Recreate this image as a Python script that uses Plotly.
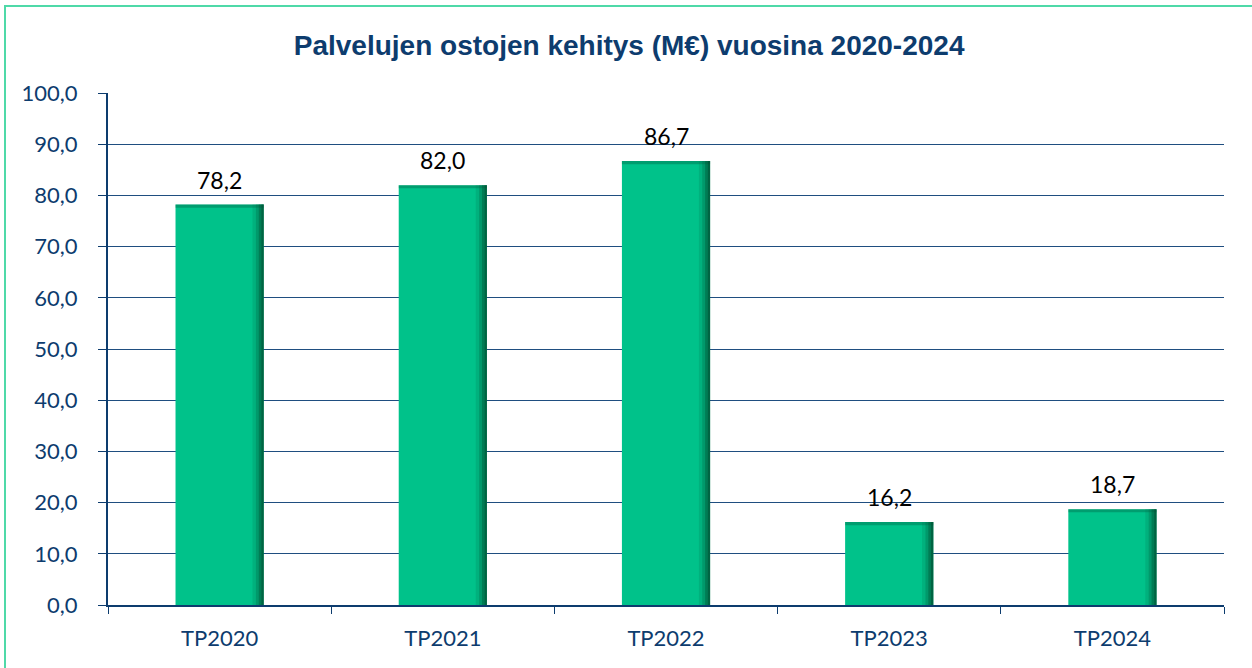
import plotly.graph_objects as go

categories = ["TP2020", "TP2021", "TP2022", "TP2023", "TP2024"]
values = [78.2, 82.0, 86.7, 16.2, 18.7]
labels = ["78,2", "82,0", "86,7", "16,2", "18,7"]
y_ticks = [0, 10, 20, 30, 40, 50, 60, 70, 80, 90, 100]

navy = "#0d3c6e"
green = "#00c28a"
font_body = "Lato, Open Sans, sans-serif"

fig = go.Figure()
BW = 0.395
fig.add_trace(go.Bar(
    x=categories, y=values, width=BW, marker=dict(color=green, line=dict(width=0)),
    hoverinfo="skip", showlegend=False,
))
# slight dark edge along the top of each bar
top_h = 0.6
fig.add_trace(go.Bar(
    x=categories, y=[top_h] * len(values), base=[v - top_h for v in values], width=BW,
    marker=dict(color="rgba(0,90,60,0.35)", line=dict(width=0)),
    hoverinfo="skip", showlegend=False,
))
# darker shading on the right edge of bars (gradient approximation)
shades = [("rgba(0,120,80,0.22)", 0.05), ("rgba(0,100,65,0.3)", 0.035),
          ("rgba(0,80,50,0.4)", 0.022), ("rgba(0,70,45,0.45)", 0.01)]
for col, w in shades:
    fig.add_trace(go.Bar(
        x=categories, y=values, width=w, offset=BW / 2 - w,
        marker=dict(color=col, line=dict(width=0)),
        hoverinfo="skip", showlegend=False,
    ))

annotations = [
    dict(x=c, y=v, text=t, xref="x", yref="y", showarrow=False,
         yanchor="middle", yshift=25,
         font=dict(family=font_body, size=23, color="#000000"))
    for c, v, t in zip(categories, values, labels)
]

fig.update_layout(
    width=1252, height=668,
    barmode="overlay",
    separators=", ",
    paper_bgcolor="white", plot_bgcolor="white",
    margin=dict(l=108, r=28, t=93, b=63),
    title=dict(
        text="<b>Palvelujen ostojen kehitys (M€) vuosina 2020-2024</b>",
        x=0.5025, xanchor="center", y=0.933, yanchor="middle",
        font=dict(family="Liberation Sans, Arial, sans-serif", size=28, color=navy),
    ),
    xaxis=dict(
        showgrid=False, showline=True, linecolor=navy, linewidth=2,
        ticks="outside", tickson="boundaries", ticklen=7, tickcolor=navy, tickwidth=1,
        tickfont=dict(family=font_body, size=22, color=navy),
        ticklabelstandoff=13,
    ),
    yaxis=dict(
        range=[0, 100], tickvals=y_ticks, tickformat=".1f",
        showgrid=True, gridcolor="#1f4e80", gridwidth=1,
        showline=True, linecolor=navy, linewidth=2,
        ticks="outside", ticklen=8, tickcolor=navy,
        tickfont=dict(family=font_body, size=22, color=navy),
        ticklabelstandoff=16,
        zeroline=False,
    ),
    annotations=annotations,
    shapes=[dict(
        type="rect", xref="paper", yref="paper",
        x0=(5 - 108) / 1116, x1=(1260 - 108) / 1116,
        y0=(605 - 680) / 512, y1=(605 - 6) / 512,
        line=dict(color="#4fd9a8", width=2), fillcolor="rgba(0,0,0,0)", layer="below",
    )],
)

fig.write_html("out.html", config={"displayModeBar": False},
               post_script="document.body.style.margin='0px';")
